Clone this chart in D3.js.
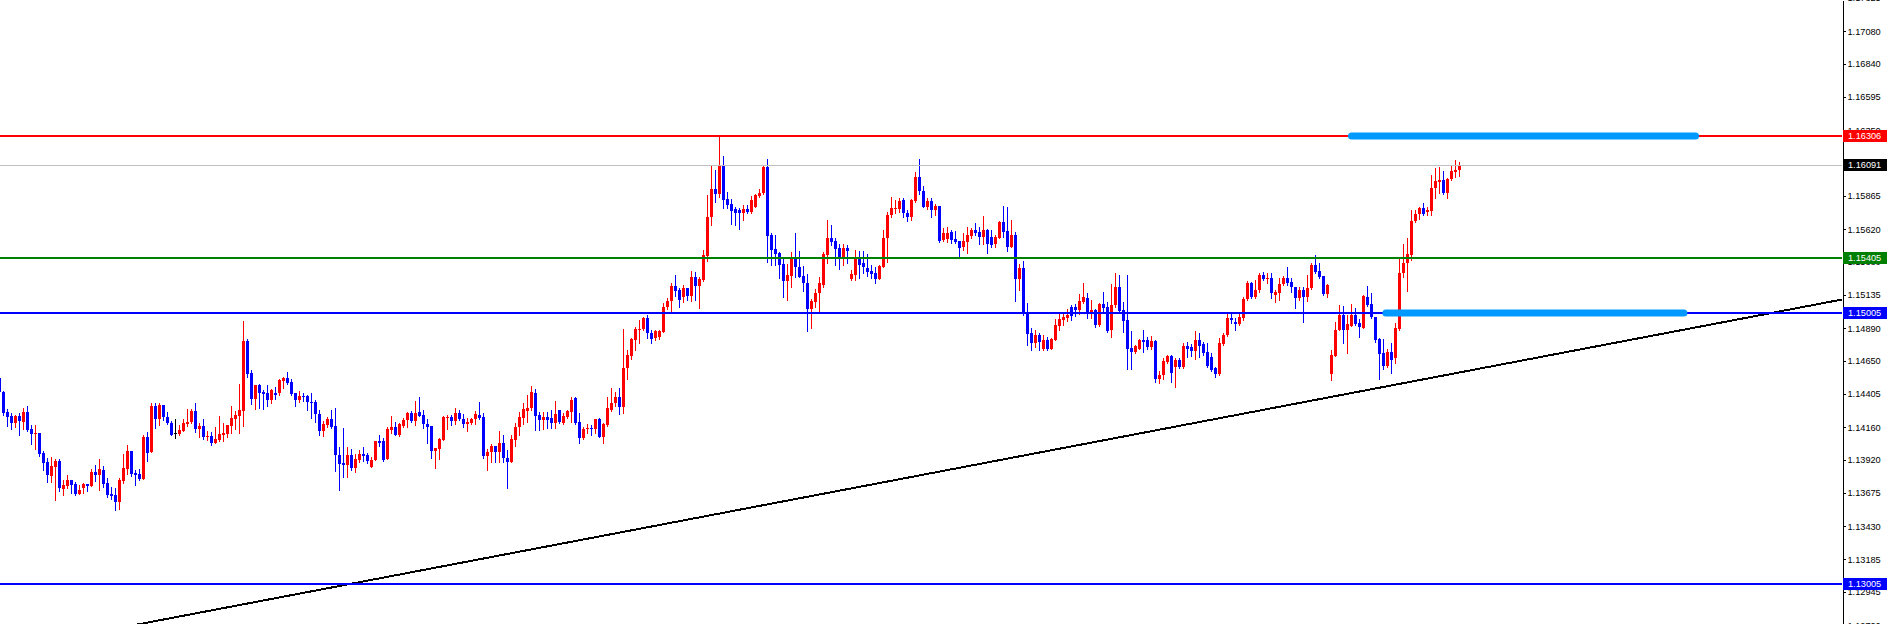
<!DOCTYPE html>
<html><head><meta charset="utf-8">
<script src="https://cdn.jsdelivr.net/npm/d3@7"></script>
<style>html,body{margin:0;padding:0;background:#fff;overflow:hidden}svg{display:block}</style>
</head><body>
<script>
// ---- data (EURUSD-style H-candles) ----
const opens = [1.14523,1.14422,1.14274,1.14242,1.14191,1.14242,1.14200,1.14271,1.14146,1.14107,1.14117,1.13967,1.13903,1.13802,1.13869,1.13911,1.13704,1.13728,1.13770,1.13741,1.13667,1.13709,1.13741,1.13728,1.13829,1.13809,1.13844,1.13746,1.13669,1.13659,1.13608,1.13763,1.13851,1.13984,1.13824,1.13815,1.13777,1.14090,1.13978,1.14316,1.14223,1.14323,1.14237,1.14193,1.14115,1.14110,1.14134,1.14183,1.14198,1.14281,1.14146,1.14171,1.14090,1.14095,1.14045,1.14065,1.14104,1.14110,1.14171,1.14223,1.14242,1.14281,1.14798,1.14559,1.14367,1.14471,1.14422,1.14414,1.14360,1.14412,1.14412,1.14502,1.14523,1.14495,1.14412,1.14360,1.14390,1.14390,1.14345,1.14345,1.14257,1.14134,1.14176,1.14220,1.14166,1.13956,1.13898,1.13881,1.13954,1.13859,1.13918,1.13962,1.13954,1.13869,1.13918,1.14058,1.14058,1.13925,1.14139,1.14159,1.14102,1.14171,1.14213,1.14262,1.14208,1.14271,1.14247,1.14186,1.14171,1.13984,1.13998,1.14065,1.14230,1.14237,1.14208,1.14262,1.14218,1.14181,1.14189,1.14218,1.14249,1.14237,1.13949,1.13974,1.14023,1.13978,1.14045,1.13930,1.13905,1.14065,1.14164,1.14225,1.14279,1.14299,1.14414,1.14249,1.14213,1.14237,1.14225,1.14189,1.14286,1.14189,1.14237,1.14269,1.14373,1.14200,1.14078,1.14144,1.14156,1.14144,1.14218,1.14090,1.14176,1.14286,1.14336,1.14380,1.14311,1.14594,1.14685,1.14803,1.14876,1.14884,1.14963,1.14856,1.14815,1.14825,1.14863,1.15044,1.15090,1.15203,1.15171,1.15122,1.15184,1.15127,1.15269,1.15201,1.15245,1.15422,1.15707,1.15916,1.15879,1.16086,1.15840,1.15803,1.15766,1.15761,1.15737,1.15766,1.15749,1.15786,1.15867,1.15884,1.16081,1.15577,1.15474,1.15442,1.15363,1.15240,1.15277,1.15413,1.15343,1.15275,1.15221,1.15031,1.15085,1.15147,1.15208,1.15429,1.15553,1.15535,1.15479,1.15410,1.15483,1.15252,1.15282,1.15398,1.15368,1.15331,1.15311,1.15294,1.15252,1.15343,1.15553,1.15724,1.15769,1.15769,1.15835,1.15741,1.15712,1.15830,1.16007,1.15903,1.15786,1.15830,1.15761,1.15793,1.15540,1.15545,1.15601,1.15545,1.15535,1.15491,1.15527,1.15570,1.15614,1.15601,1.15560,1.15614,1.15560,1.15508,1.15553,1.15675,1.15606,1.15491,1.15577,1.15252,1.15336,1.15011,1.14856,1.14783,1.14839,1.14734,1.14803,1.14736,1.14803,1.14908,1.14950,1.14963,1.15048,1.15044,1.15024,1.15085,1.15115,1.15007,1.15024,1.14913,1.15068,1.15048,1.14876,1.15061,1.15196,1.15024,1.14950,1.14741,1.14716,1.14736,1.14803,1.14803,1.14749,1.14798,1.14513,1.14545,1.14643,1.14685,1.14606,1.14655,1.14601,1.14758,1.14749,1.14722,1.14803,1.14771,1.14716,1.14680,1.14594,1.14552,1.14773,1.14839,1.14963,1.14933,1.14921,1.14963,1.15105,1.15221,1.15122,1.15171,1.15282,1.15252,1.15262,1.15134,1.15147,1.15213,1.15262,1.15228,1.15196,1.15115,1.15171,1.15122,1.15184,1.15356,1.15314,1.15275,1.15142,1.14552,1.14687,1.14876,1.14987,1.14876,1.14908,1.14987,1.14930,1.14893,1.15122,1.15068,1.14974,1.14808,1.14709,1.14611,1.14716,1.14668,1.14881,1.15294,1.15368,1.15429,1.15680,1.15730,1.15774,1.15749,1.15754,1.15921,1.15970,1.15983,1.15889,1.15988,1.16044,1.16056];
const highs = [1.14537,1.14427,1.14293,1.14264,1.14249,1.14266,1.14301,1.14316,1.14176,1.14176,1.14117,1.13984,1.13935,1.13942,1.13925,1.13925,1.13770,1.13807,1.13770,1.13755,1.13733,1.13750,1.13741,1.13851,1.13881,1.13925,1.13874,1.13782,1.13718,1.13709,1.13782,1.13964,1.14028,1.13984,1.13844,1.13851,1.14102,1.14122,1.14336,1.14336,1.14336,1.14323,1.14271,1.14205,1.14220,1.14176,1.14220,1.14291,1.14291,1.14336,1.14189,1.14220,1.14132,1.14122,1.14164,1.14242,1.14189,1.14176,1.14316,1.14276,1.14479,1.14943,1.14810,1.14581,1.14471,1.14479,1.14434,1.14471,1.14441,1.14454,1.14513,1.14532,1.14566,1.14513,1.14412,1.14427,1.14410,1.14397,1.14410,1.14360,1.14286,1.14205,1.14233,1.14286,1.14301,1.14013,1.14154,1.14013,1.13998,1.13962,1.13991,1.14013,1.13969,1.13938,1.14058,1.14102,1.14078,1.14159,1.14242,1.14196,1.14189,1.14230,1.14274,1.14281,1.14353,1.14385,1.14286,1.14218,1.14171,1.14006,1.14082,1.14242,1.14249,1.14249,1.14303,1.14286,1.14257,1.14225,1.14230,1.14279,1.14345,1.14266,1.13998,1.14036,1.14023,1.14132,1.14102,1.13991,1.14102,1.14193,1.14269,1.14336,1.14397,1.14463,1.14439,1.14274,1.14274,1.14274,1.14286,1.14353,1.14286,1.14262,1.14286,1.14380,1.14385,1.14262,1.14164,1.14183,1.14176,1.14223,1.14230,1.14189,1.14380,1.14447,1.14422,1.14451,1.14884,1.14729,1.14818,1.14896,1.14950,1.14974,1.14987,1.14876,1.14876,1.14876,1.15078,1.15110,1.15223,1.15282,1.15184,1.15208,1.15184,1.15314,1.15306,1.15269,1.15466,1.15872,1.16093,1.16056,1.16306,1.16160,1.15894,1.15842,1.15781,1.15774,1.15798,1.15798,1.15865,1.15879,1.15914,1.16088,1.16137,1.15589,1.15577,1.15452,1.15405,1.15363,1.15454,1.15594,1.15461,1.15348,1.15289,1.15103,1.15176,1.15269,1.15454,1.15688,1.15651,1.15553,1.15511,1.15511,1.15503,1.15319,1.15466,1.15459,1.15459,1.15437,1.15356,1.15343,1.15356,1.15614,1.15749,1.15859,1.15835,1.15848,1.15848,1.15761,1.15842,1.16039,1.16137,1.15938,1.15848,1.15848,1.15805,1.15793,1.15626,1.15634,1.15614,1.15606,1.15535,1.15594,1.15638,1.15631,1.15663,1.15634,1.15717,1.15621,1.15614,1.15577,1.15682,1.15791,1.15786,1.15688,1.15601,1.15361,1.15385,1.15073,1.14889,1.14876,1.14852,1.14839,1.14827,1.14815,1.14957,1.14999,1.14999,1.15029,1.15061,1.15068,1.15139,1.15221,1.15147,1.15098,1.15029,1.15073,1.15159,1.15085,1.15213,1.15299,1.15282,1.15085,1.15282,1.14869,1.14766,1.14808,1.14876,1.14823,1.14832,1.14803,1.14576,1.14668,1.14692,1.14692,1.14668,1.14668,1.14783,1.14790,1.14773,1.14869,1.14856,1.14790,1.14783,1.14705,1.14606,1.14820,1.14856,1.14999,1.14993,1.14963,1.14999,1.15122,1.15238,1.15228,1.15245,1.15294,1.15306,1.15294,1.15294,1.15171,1.15257,1.15275,1.15343,1.15262,1.15196,1.15196,1.15191,1.15282,1.15368,1.15429,1.15368,1.15275,1.15213,1.14729,1.14938,1.15061,1.15053,1.14987,1.15068,1.15036,1.14955,1.15134,1.15201,1.15152,1.14974,1.14815,1.14808,1.14734,1.14778,1.14926,1.15405,1.15508,1.15557,1.15761,1.15761,1.15786,1.15811,1.15786,1.16019,1.16069,1.16081,1.16049,1.15995,1.16088,1.16130,1.16112];
const lows = [1.14412,1.14249,1.14171,1.14146,1.14161,1.14104,1.14146,1.14134,1.14035,1.14001,1.13949,1.13844,1.13755,1.13755,1.13623,1.13691,1.13659,1.13713,1.13676,1.13659,1.13667,1.13674,1.13691,1.13728,1.13765,1.13696,1.13721,1.13642,1.13632,1.13549,1.13556,1.13746,1.13812,1.13802,1.13735,1.13770,1.13777,1.13913,1.13978,1.14156,1.14178,1.14213,1.14183,1.14104,1.14082,1.14102,1.14134,1.14169,1.14189,1.14126,1.14087,1.14075,1.14065,1.14030,1.14041,1.14060,1.14060,1.14087,1.14115,1.14149,1.14119,1.14169,1.14532,1.14331,1.14293,1.14303,1.14293,1.14318,1.14336,1.14367,1.14397,1.14451,1.14479,1.14399,1.14316,1.14345,1.14355,1.14286,1.14227,1.14198,1.14100,1.14095,1.14159,1.14154,1.13837,1.13696,1.13794,1.13794,1.13844,1.13829,1.13905,1.13913,1.13898,1.13869,1.13918,1.14021,1.13913,1.13925,1.14115,1.14102,1.14097,1.14164,1.14164,1.14200,1.14176,1.14242,1.14152,1.14045,1.13930,1.13857,1.13923,1.14065,1.14144,1.14176,1.14183,1.14213,1.14164,1.14134,1.14183,1.14183,1.14218,1.13935,1.13844,1.13903,1.13903,1.13903,1.13903,1.13713,1.13905,1.14023,1.14102,1.14181,1.14200,1.14286,1.14139,1.14139,1.14144,1.14152,1.14152,1.14152,1.14189,1.14183,1.14225,1.14200,1.14183,1.14045,1.14070,1.14119,1.14102,1.14119,1.14087,1.14041,1.14169,1.14279,1.14316,1.14254,1.14262,1.14515,1.14663,1.14729,1.14783,1.14876,1.14820,1.14778,1.14803,1.14810,1.14859,1.15029,1.15004,1.15129,1.15048,1.15085,1.15098,1.15093,1.15098,1.15041,1.15240,1.15387,1.15651,1.15822,1.15859,1.15774,1.15776,1.15658,1.15651,1.15623,1.15688,1.15737,1.15741,1.15781,1.15859,1.15879,1.15380,1.15356,1.15356,1.15262,1.15122,1.15098,1.15196,1.15269,1.15265,1.15166,1.14871,1.14893,1.15048,1.15007,1.15196,1.15368,1.15503,1.15356,1.15324,1.15356,1.15368,1.15245,1.15245,1.15262,1.15294,1.15275,1.15257,1.15225,1.15252,1.15343,1.15380,1.15712,1.15737,1.15749,1.15712,1.15682,1.15688,1.15822,1.15879,1.15781,1.15769,1.15712,1.15724,1.15527,1.15535,1.15527,1.15516,1.15516,1.15405,1.15466,1.15442,1.15553,1.15577,1.15511,1.15508,1.15442,1.15491,1.15491,1.15553,1.15560,1.15461,1.15486,1.15093,1.15171,1.14987,1.14766,1.14729,1.14753,1.14729,1.14729,1.14729,1.14736,1.14803,1.14876,1.14913,1.14945,1.14950,1.14982,1.14993,1.15078,1.14967,1.14963,1.14901,1.14908,1.15011,1.14863,1.14827,1.15048,1.14999,1.14863,1.14589,1.14589,1.14705,1.14734,1.14716,1.14734,1.14736,1.14495,1.14488,1.14513,1.14631,1.14495,1.14454,1.14594,1.14594,1.14680,1.14685,1.14660,1.14680,1.14692,1.14606,1.14574,1.14532,1.14545,1.14766,1.14834,1.14926,1.14876,1.14913,1.14950,1.15098,1.15110,1.15110,1.15159,1.15245,1.15225,1.15110,1.15085,1.15098,1.15208,1.15208,1.15159,1.15041,1.15098,1.14938,1.15093,1.15179,1.15299,1.15257,1.15134,1.15122,1.14508,1.14685,1.14876,1.14783,1.14709,1.14906,1.14913,1.14827,1.14893,1.15056,1.14967,1.14790,1.14515,1.14587,1.14606,1.14557,1.14631,1.14876,1.15269,1.15166,1.15393,1.15675,1.15693,1.15724,1.15724,1.15724,1.15848,1.15884,1.15879,1.15852,1.15983,1.16007,1.16012];
const closes = [1.14419,1.14266,1.14237,1.14189,1.14242,1.14208,1.14271,1.14139,1.14107,1.14119,1.13962,1.13898,1.13807,1.13876,1.13913,1.13713,1.13735,1.13770,1.13735,1.13667,1.13696,1.13741,1.13726,1.13829,1.13809,1.13849,1.13741,1.13659,1.13654,1.13608,1.13770,1.13859,1.13984,1.13812,1.13807,1.13777,1.14090,1.13971,1.14316,1.14223,1.14323,1.14237,1.14189,1.14104,1.14115,1.14139,1.14191,1.14198,1.14281,1.14146,1.14171,1.14090,1.14097,1.14045,1.14072,1.14110,1.14117,1.14176,1.14230,1.14249,1.14286,1.14798,1.14552,1.14367,1.14471,1.14414,1.14405,1.14360,1.14434,1.14397,1.14508,1.14523,1.14485,1.14405,1.14360,1.14390,1.14380,1.14345,1.14340,1.14257,1.14134,1.14183,1.14220,1.14164,1.13956,1.13888,1.13881,1.13954,1.13859,1.13925,1.13962,1.13949,1.13913,1.13918,1.14058,1.14041,1.13918,1.14146,1.14159,1.14102,1.14181,1.14213,1.14262,1.14208,1.14266,1.14242,1.14181,1.14164,1.13984,1.14004,1.14072,1.14237,1.14237,1.14208,1.14262,1.14218,1.14183,1.14196,1.14218,1.14257,1.14230,1.13949,1.13974,1.14023,1.13978,1.14045,1.13930,1.13905,1.14072,1.14164,1.14233,1.14291,1.14303,1.14422,1.14242,1.14213,1.14237,1.14213,1.14189,1.14257,1.14200,1.14244,1.14279,1.14360,1.14193,1.14078,1.14146,1.14156,1.14144,1.14218,1.14090,1.14183,1.14303,1.14336,1.14380,1.14311,1.14594,1.14692,1.14808,1.14884,1.14884,1.14963,1.14852,1.14808,1.14869,1.14869,1.15048,1.15090,1.15203,1.15166,1.15098,1.15184,1.15127,1.15269,1.15201,1.15252,1.15429,1.15707,1.15916,1.15879,1.16086,1.15835,1.15798,1.15754,1.15741,1.15737,1.15766,1.15749,1.15835,1.15872,1.15889,1.16081,1.15572,1.15466,1.15435,1.15356,1.15240,1.15282,1.15417,1.15339,1.15269,1.15221,1.15031,1.15093,1.15147,1.15221,1.15437,1.15553,1.15527,1.15474,1.15410,1.15483,1.15461,1.15289,1.15405,1.15356,1.15339,1.15306,1.15289,1.15252,1.15348,1.15553,1.15724,1.15774,1.15778,1.15830,1.15737,1.15712,1.15835,1.16007,1.15903,1.15786,1.15830,1.15761,1.15793,1.15535,1.15589,1.15589,1.15540,1.15527,1.15479,1.15535,1.15577,1.15614,1.15594,1.15560,1.15614,1.15508,1.15503,1.15560,1.15675,1.15601,1.15491,1.15577,1.15252,1.15336,1.14999,1.14847,1.14783,1.14839,1.14790,1.14803,1.14736,1.14810,1.14913,1.14957,1.14974,1.14987,1.14982,1.15024,1.15090,1.15122,1.15007,1.15024,1.14913,1.15068,1.15041,1.14869,1.15061,1.15196,1.15019,1.14945,1.14736,1.14716,1.14758,1.14803,1.14790,1.14749,1.14798,1.14513,1.14545,1.14648,1.14685,1.14557,1.14655,1.14606,1.14758,1.14736,1.14722,1.14803,1.14758,1.14709,1.14611,1.14581,1.14552,1.14783,1.14839,1.14967,1.14950,1.14921,1.14974,1.15105,1.15221,1.15122,1.15171,1.15282,1.15252,1.15262,1.15147,1.15159,1.15216,1.15262,1.15221,1.15196,1.15115,1.15171,1.15122,1.15188,1.15356,1.15306,1.15265,1.15142,1.15208,1.14692,1.14876,1.14987,1.14876,1.14918,1.14987,1.14921,1.14901,1.15129,1.15061,1.14974,1.14803,1.14700,1.14611,1.14716,1.14655,1.14889,1.15294,1.15368,1.15435,1.15680,1.15730,1.15774,1.15730,1.15761,1.15926,1.15975,1.15983,1.15884,1.15988,1.16049,1.16056,1.16091];

const priceTicks = [1.17325,1.17080,1.16840,1.16595,1.16350,1.16110,1.15865,1.15620,1.15380,1.15135,1.14890,1.14650,1.14405,1.14160,1.13920,1.13675,1.13430,1.13185,1.12945,1.12700];
const levelPrices = [1.16306, 1.15405, 1.15005, 1.13005];
const currentPrice = 1.16091;
const trendAnchorIdx = [35.125, 460.625];
const trendAnchorPrice = [1.12708, 1.15101];
const zoneStartIdx = [338.0, 346.6];
const zoneEndIdx = [424.0, 421.1];
const zonePrices = [1.16306, 1.15005];

// ---- layout / style ----
const W = 1887, H = 624, plotR = 1842;
const levelColors = ['#ff0000', '#008000', '#0000ff', '#0000ff'];
const upColor = '#ff0000', downColor = '#0000ff', dojiColor = '#000000';
const font = '"Liberation Sans", Arial, sans-serif';

const svg = d3.select('body').append('svg').attr('width', W).attr('height', H);

const x = d3.scaleLinear().domain([0, opens.length - 1]).range([-0.5, -0.5 + 4 * (opens.length - 1)]);
const y = d3.scaleLinear().domain([1.12708, 1.17310]).range([H, 0]);

svg.append('defs').append('clipPath').attr('id', 'plot')
  .append('rect').attr('x', 0).attr('y', 0).attr('width', plotR).attr('height', H);

const plot = svg.append('g').attr('clip-path', 'url(#plot)');

const candles = opens.map((o, i) => ({i, o, h: highs[i], l: lows[i], c: closes[i]}));
const col = d => d.c > d.o ? upColor : (d.c < d.o ? downColor : dojiColor);

const cg = plot.append('g').attr('shape-rendering', 'crispEdges');
cg.selectAll('line.wick').data(candles).join('line')
  .attr('class', 'wick')
  .attr('x1', d => x(d.i)).attr('x2', d => x(d.i))
  .attr('y1', d => Math.round(y(d.h))).attr('y2', d => Math.round(y(d.l)) + 1)
  .attr('stroke', col).attr('stroke-width', 1);
cg.selectAll('rect.body').data(candles).join('rect')
  .attr('class', 'body')
  .attr('x', d => x(d.i) - 1.5).attr('width', 3)
  .attr('y', d => Math.round(y(Math.max(d.o, d.c))))
  .attr('height', d => Math.max(1, Math.round(y(Math.min(d.o, d.c))) - Math.round(y(Math.max(d.o, d.c)))))
  .attr('fill', col);

// current price line (gray)
plot.append('line').attr('x1', 0).attr('x2', plotR)
  .attr('y1', Math.round(y(currentPrice)) + 0.5).attr('y2', Math.round(y(currentPrice)) + 0.5)
  .attr('stroke', '#c0c0c0').attr('stroke-width', 1).attr('shape-rendering', 'crispEdges');

// trend line
const tl = d3.scaleLinear().domain(trendAnchorIdx).range(trendAnchorPrice);
const i0 = x.invert(0), i1 = x.invert(plotR);
plot.append('line')
  .attr('x1', 0).attr('y1', y(tl(i0)))
  .attr('x2', plotR).attr('y2', y(tl(i1)))
  .attr('stroke', '#000').attr('stroke-width', 2).attr('shape-rendering', 'crispEdges');

// horizontal levels
plot.selectAll('line.level').data(levelPrices).join('line')
  .attr('class', 'level')
  .attr('x1', 0).attr('x2', plotR)
  .attr('y1', d => Math.round(y(d))).attr('y2', d => Math.round(y(d)))
  .attr('stroke', (d, i) => levelColors[i]).attr('stroke-width', 2)
  .attr('shape-rendering', 'crispEdges');

// thick zone segments
plot.selectAll('line.zone').data(zonePrices).join('line')
  .attr('class', 'zone')
  .attr('x1', (d, i) => x(zoneStartIdx[i])).attr('x2', (d, i) => x(zoneEndIdx[i]))
  .attr('y1', d => Math.round(y(d))).attr('y2', d => Math.round(y(d)))
  .attr('stroke', '#0099ff').attr('stroke-width', 7).attr('stroke-linecap', 'round');

// right price axis
const axis = d3.axisRight(y).tickValues(priceTicks).tickSize(3).tickSizeOuter(0).tickPadding(2)
  .tickFormat(d3.format('.5f'));
const ag = svg.append('g').attr('transform', `translate(${plotR + 0.5},0)`).call(axis);
ag.select('.domain').attr('stroke', '#000').attr('shape-rendering', 'crispEdges');
ag.selectAll('.tick line').attr('stroke', '#000').attr('shape-rendering', 'crispEdges');
ag.selectAll('.tick text').attr('fill', '#000').style('font-family', font).style('font-size', '9.2px');

// price tags on the axis
const tags = levelPrices.map((p, i) => ({p, bg: levelColors[i]})).concat([{p: currentPrice, bg: '#000000'}]);
const tg = svg.append('g');
tg.selectAll('rect').data(tags).join('rect')
  .attr('x', plotR + 1).attr('width', W - plotR)
  .attr('y', d => Math.round(y(d.p)) - 6).attr('height', 12)
  .attr('fill', d => d.bg).attr('shape-rendering', 'crispEdges');
tg.selectAll('text').data(tags).join('text')
  .attr('x', plotR + 6).attr('y', d => Math.round(y(d.p)))
  .attr('dy', '0.34em')
  .attr('fill', '#fff').style('font-family', font).style('font-size', '9.2px')
  .text(d => d3.format('.5f')(d.p));
</script>
</body></html>
